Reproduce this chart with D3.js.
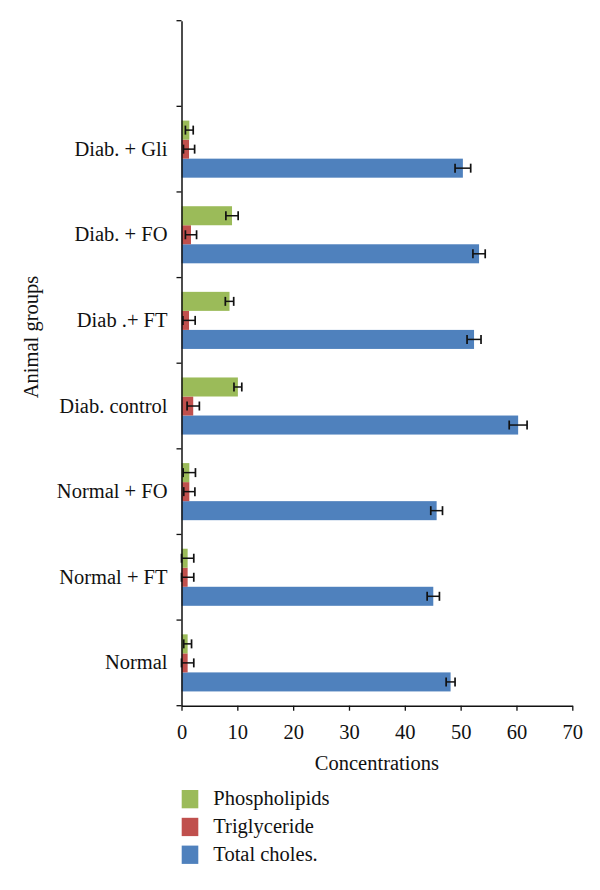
<!DOCTYPE html>
<html><head><meta charset="utf-8">
<script src="https://cdn.jsdelivr.net/npm/d3@7"></script>
<style>body{margin:0;background:#fff}svg{display:block}svg text{font-family:"Liberation Serif","Times New Roman",serif !important;fill:#111}</style>
</head><body><svg id="c" width="600" height="890"></svg>
<script>
const categories = ["Normal","Normal + FT","Normal + FO","Diab. control","Diab .+ FT","Diab. + FO","Diab. + Gli"];
const seriesNames = ["Total choles.","Triglyceride","Phospholipids"];
const totalChol = [48.2,45.1,45.7,60.3,52.4,53.3,50.4];
const totalCholErr = [0.8,1.1,1.05,1.6,1.25,1.1,1.4];
const triglyceride = [1.1,1.1,1.4,2.1,1.35,1.7,1.35];
const triglycerideErr = [1.1,1.1,1.0,1.1,1.1,1.0,1.0];
const phospholipids = [1.1,1.1,1.4,10.1,8.6,9.05,1.4];
const phospholipidsErr = [0.7,1.1,1.1,0.7,0.75,1.1,0.7];
const xTicks = [0,10,20,30,40,50,60,70];
const colors = {"Total choles.":"#4F81BD","Triglyceride":"#C0504D","Phospholipids":"#9BBB59"};
const legendOrder = ["Phospholipids","Triglyceride","Total choles."];

const series = [
  {name:"Total choles.", v:totalChol, e:totalCholErr},
  {name:"Triglyceride", v:triglyceride, e:triglycerideErr},
  {name:"Phospholipids", v:phospholipids, e:phospholipidsErr}
];
const FS = 20.5;
const FF = '"Liberation Serif","Times New Roman",serif';

const svg = d3.select("#c");
const x = d3.scaleLinear().domain([0,70]).range([181.5,572.3]);
const yDomain = categories.concat([" "]);
const y = d3.scaleBand().domain(yDomain).range([705.7,20.7]).padding(0);
const ySub = d3.scaleBand().domain(seriesNames).range([y.bandwidth(),0]).paddingInner(0).paddingOuter(0.75);

// bars
const g = svg.append("g");
series.forEach(s=>{
  categories.forEach((c,i)=>{
    const y0 = y(c)+ySub(s.name);
    g.append("rect").attr("x",x(0)).attr("y",y0).attr("width",x(s.v[i])-x(0)).attr("height",ySub.bandwidth())
      .attr("fill",colors[s.name]);
  });
});
// error bars
series.forEach(s=>{
  categories.forEach((c,i)=>{
    const cy = y(c)+ySub(s.name)+ySub.bandwidth()/2;
    const lo = x(s.v[i]-s.e[i]), hi = x(s.v[i]+s.e[i]);
    g.append("line").attr("x1",lo).attr("x2",hi).attr("y1",cy).attr("y2",cy).attr("stroke","#111").attr("stroke-width",1.5);
    [lo,hi].forEach(px=>g.append("line").attr("x1",px).attr("x2",px).attr("y1",cy-4.5).attr("y2",cy+4.5).attr("stroke","#111").attr("stroke-width",1.7));
  });
});

// x axis
const xAxis = d3.axisBottom(x).tickValues(xTicks).tickSize(5).tickSizeOuter(0).tickFormat(d3.format("d"));
const xg = svg.append("g").attr("transform","translate(0,705.7)").call(xAxis);
xg.attr("font-family",FF).attr("font-size",FS);
xg.select(".domain").attr("stroke","#111").attr("stroke-width",1.5);
xg.selectAll(".tick line").attr("stroke","#111").attr("stroke-width",1.3);
xg.selectAll(".tick text").attr("fill","#111").attr("y",33).attr("dy",0);

// y axis
const yAxis = d3.axisLeft(y).tickSize(0).tickPadding(14);
const yg = svg.append("g").attr("transform","translate(181.5,0)").call(yAxis);
yg.attr("font-family",FF).attr("font-size",FS);
yg.select(".domain").attr("stroke","#111").attr("stroke-width",1.5);
yg.selectAll(".tick text").attr("fill","#111");
// boundary ticks
const bounds = yDomain.map(c=>y(c)).concat([y(yDomain[0])+y.bandwidth()]);
svg.append("g").selectAll("line").data(bounds).join("line")
  .attr("x1",176.5).attr("x2",181.5).attr("y1",d=>d).attr("y2",d=>d).attr("stroke","#111").attr("stroke-width",1.3);

// axis titles
svg.append("text").attr("x",(x(0)+x(70))/2).attr("y",770).attr("text-anchor","middle").attr("font-size",FS).attr("font-family",FF).text("Concentrations");
svg.append("text").attr("transform","translate(38,337) rotate(-90)").attr("text-anchor","middle").attr("font-size",FS).attr("font-family",FF).text("Animal groups");

// legend
const lg = svg.append("g").attr("font-family",FF).attr("font-size",FS);
legendOrder.forEach((n,i)=>{
  const yy = 790+i*27.8;
  lg.append("rect").attr("x",181.7).attr("y",yy).attr("width",16.6).attr("height",18.3).attr("fill",colors[n]);
  lg.append("text").attr("x",213.3).attr("y",yy+15).text(n);
});
</script></body></html>
